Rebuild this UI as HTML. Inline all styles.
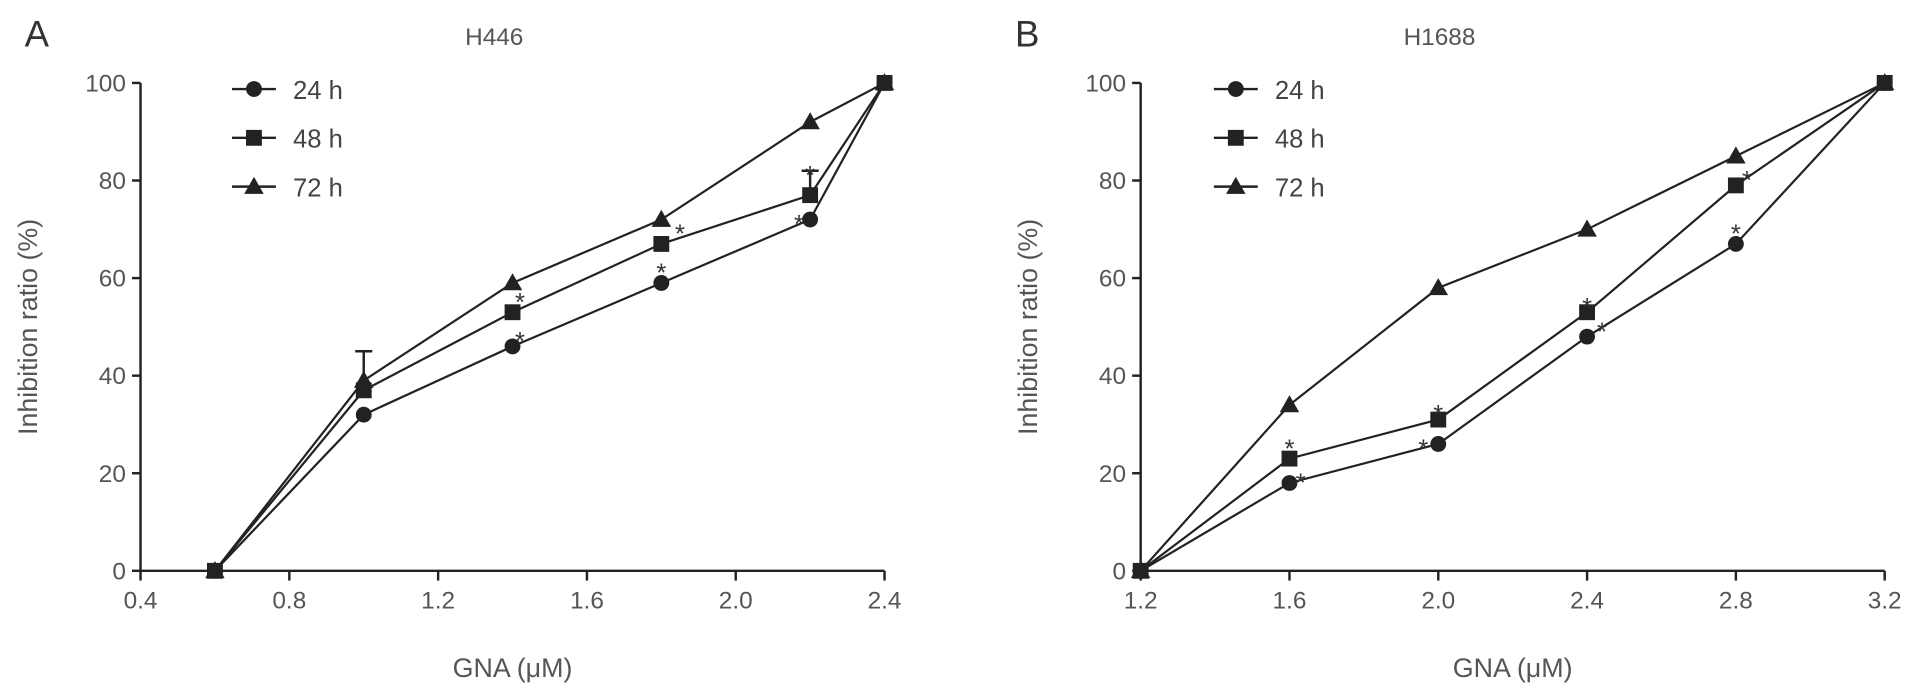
<!DOCTYPE html>
<html><head><meta charset="utf-8"><style>
html,body{margin:0;padding:0;background:#fff;}
svg{display:block;font-family:"Liberation Sans",sans-serif;}
</style></head><body>
<svg id="chart" width="1913" height="694" viewBox="0 0 1568 569" xmlns="http://www.w3.org/2000/svg"></svg>
<script>
const yTicks=[0,20,40,60,80,100];
const xTicksA=[0.4,0.8,1.2,1.6,2.0,2.4];
const xTicksB=[1.2,1.6,2.0,2.4,2.8,3.2];
const dosesA=[0.6,1.0,1.4,1.8,2.2,2.4];
const dosesB=[1.2,1.6,2.0,2.4,2.8,3.2];
const seriesNames=["24 h","48 h","72 h"];
const a24=[0,32,46,59,72,100];
const a48=[0,37,53,67,77,100];
const a72=[0,39,59,72,92,100];
const b24=[0,18,26,48,67,100];
const b48=[0,23,31,53,79,100];
const b72=[0,34,58,70,85,100];
const errA48=[0,8,0,0,5,0];
const starsAx=[1.42,1.42,1.85,1.8,2.2,2.17];
const starsAy=[56,48,70,62,82,72];
const starsBx=[1.6,1.63,2.0,1.96,2.4,2.44,2.8,2.83];
const starsBy=[26,19,33,26,55,50,70,81];

const svg=document.getElementById('chart');
const NS="http://www.w3.org/2000/svg";
function mk(tag,attrs,parent,text){const e=document.createElementNS(NS,tag);for(const k in attrs)e.setAttribute(k,attrs[k]);if(text!==undefined)e.textContent=text;(parent||svg).appendChild(e);return e;}

function panel(cfg){
  const g=mk('g',{});
  
  
  const x=v=>cfg.x0+(v-cfg.xmin)/(cfg.xmax-cfg.xmin)*(cfg.x1-cfg.x0);
  const y=v=>468-v*4;
  const ax=mk('path',{d:`M${cfg.x0} 68 V468 H${cfg.x1}`,stroke:'#222','stroke-width':2,fill:'none'},g);
  
  
  yTicks.forEach(t=>{
    mk('line',{x1:cfg.x0-7,x2:cfg.x0,y1:y(t),y2:y(t),stroke:'#222','stroke-width':2},g);
    const l=mk('text',{x:cfg.x0-12,y:y(t)+7,'text-anchor':'end','font-size':20,fill:'#555'},g,String(t));
    
    
  });
  cfg.xt.forEach(t=>{
    mk('line',{x1:x(t),x2:x(t),y1:468,y2:476,stroke:'#222','stroke-width':2},g);
    const l=mk('text',{x:x(t),y:499,'text-anchor':'middle','font-size':20,fill:'#555'},g,t.toFixed(1));
    
    
  });
  const yt=mk('text',{x:0,y:0,'text-anchor':'middle','font-size':22,fill:'#555',transform:`translate(${cfg.x0-85},268) rotate(-90)`},g,'Inhibition ratio (%)');
  
  
  const xt=mk('text',{x:(cfg.x0+cfg.x1)/2,y:555,'text-anchor':'middle','font-size':22,fill:'#555'},g,'GNA (\u03bcM)');
  
  
  const ti=mk('text',{x:cfg.tx,y:37,'text-anchor':'middle','font-size':20,fill:'#555'},g,cfg.title);
  
  
  const lt=mk('text',{x:cfg.lx,y:38,'font-size':30,fill:'#333'},g,cfg.letter);
  
  
  function marker(kind,cx,cy,par){
    if(kind===0) return mk('circle',{cx,cy,r:6.5,fill:'#222'},par);
    if(kind===1) return mk('rect',{x:cx-6.5,y:cy-6.5,width:13,height:13,fill:'#222'},par);
    return mk('path',{d:`M${cx} ${cy-8} L${cx+8} ${cy+6} L${cx-8} ${cy+6}Z`,fill:'#222'},par);
  }
  cfg.series.forEach((vals,si)=>{
    const sg=mk('g',{},g);
    
    
    mk('polyline',{points:vals.map((v,i)=>x(cfg.doses[i])+','+y(v)).join(' '),fill:'none',stroke:'#222','stroke-width':1.8},sg);
    vals.forEach((v,i)=>{const m=marker(si,x(cfg.doses[i]),y(v),sg);
      
      });
    const ly=cfg.ly+si*40;
    mk('line',{x1:cfg.legx,x2:cfg.legx+36,y1:ly,y2:ly,stroke:'#222','stroke-width':2},g);
    marker(si,cfg.legx+18,ly,g);
    const le=mk('text',{x:cfg.legx+50,y:ly+8,'font-size':21,fill:'#444'},g,seriesNames[si]);
    
    
  });
  if(cfg.err){cfg.err.forEach((e,i)=>{if(!e)return;const v=cfg.series[1][i];const cx=x(cfg.doses[i]);
    const eb=mk('path',{d:`M${cx} ${y(v)} V${y(v+e)} M${cx-7} ${y(v+e)} H${cx+7}`,stroke:'#222','stroke-width':2,fill:'none'},g);
    
    });}
  cfg.sx.forEach((sx,i)=>{
    const s=mk('text',{x:x(sx),y:y(cfg.sy[i])+11,'text-anchor':'middle','font-size':21,fill:'#333'},g,'*');
    
    
  });
}
panel({name:'panel-a-h446',x0:115,x1:725,xmin:0.4,xmax:2.4,xt:xTicksA,doses:dosesA,series:[a24,a48,a72],err:errA48,sx:starsAx,sy:starsAy,title:'H446',tx:405,letter:'A',lx:20,legx:190,ly:73});
panel({name:'panel-b-h1688',x0:935,x1:1545,xmin:1.2,xmax:3.2,xt:xTicksB,doses:dosesB,series:[b24,b48,b72],err:null,sx:starsBx,sy:starsBy,title:'H1688',tx:1180,letter:'B',lx:832,legx:995,ly:73});
</script>
</body></html>
